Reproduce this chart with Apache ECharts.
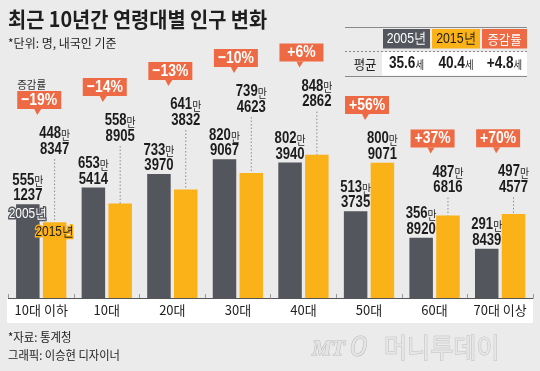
<!DOCTYPE html>
<html><head><meta charset="utf-8">
<script src="https://cdn.jsdelivr.net/npm/echarts@6/dist/echarts.min.js"></script>
<style>html,body{margin:0;padding:0;background:#ebebeb;}#c{width:540px;height:371px;}</style>
</head><body><div id="c"></div>
<script>
// ---- data ----
const categories = ['10대 이하', '10대', '20대', '30대', '40대', '50대', '60대', '70대 이상'];
const pop2005 = [5551237, 6535414, 7333970, 8209067, 8023940, 5133735, 3568920, 2918439];
const pop2015 = [4488347, 5588905, 6413832, 7394623, 8482862, 8009071, 4876816, 4974577];
const changePct = ['−19%', '−14%', '−13%', '−10%', '+6%', '+56%', '+37%', '+70%'];
const tableHeads = ['2005년', '2015년', '증감률'];
const avgAges = ['35.6', '40.4', '+4.8'];

// ---- layout (pixels) ----
const leaderGap = [67, 61.5, 63.6, 60, 47, 2.6, 22, 20.6];
const C_DARK = '#53565d', C_ORANGE = '#fbb118', C_RED = '#ee6a45', C_TXT = '#1c1c1c';
const NUMF = "'Liberation Sans',Arial,sans-serif";
const KR = "'Noto Sans CJK KR',sans-serif";
const SX = 0.82; // condensed look for numbers
const BAR_W = 23.5, GAP_RATIO = 0.14;

function txt(o) {
  const s = Object.assign({}, o);
  if (s.align) s.textAlign = s.align;
  if (s.verticalAlign) s.textVerticalAlign = s.verticalAlign;
  return s;
}
// text element positioned at (x,y) and horizontally condensed
function ctext(x, y, style, sx) {
  return { type: 'text', x: x, y: y, scaleX: sx == null ? SX : sx, style: txt(Object.assign({ x: 0, y: 0, align: 'center', verticalAlign: 'middle' }, style)) };
}
const richNum = {
  n: { fontSize: 16, fontWeight: 'bold', fontFamily: NUMF, fill: C_TXT, color: C_TXT },
  m: { fontSize: 12, fontFamily: KR, fill: C_TXT, color: C_TXT, padding: [3, 0, 0, 0] }
};

function renderItem(params, api) {
  const i = api.value(0);
  const v15 = api.value(1), v05 = api.value(2);
  const cx = api.coord([i, 0])[0];
  const off = (BAR_W + BAR_W * GAP_RATIO) / 2;
  const x05 = cx - off, x15 = cx + off;
  const top05 = api.coord([i, v05])[1];
  const top15 = api.coord([i, v15])[1];
  const ch = [];
  function valueLabel(x, glyphBottom, v) {
    const man = Math.floor(v / 10000), rest = String(v % 10000).padStart(4, '0');
    const c2 = glyphBottom - 5.8, c1 = c2 - 15.5;
    ch.push(ctext(x, c1, { text: '{n|' + man + '}{m|만}', rich: richNum }));
    ch.push(ctext(x, c2, { text: rest, fontSize: 16, fontWeight: 'bold', fontFamily: NUMF, fill: C_TXT }));
    return c1 - 5.8; // glyph top
  }
  valueLabel(x05, top05 - 2.5, v05);
  const lb = top15 - leaderGap[i];
  const gTop = valueLabel(x15, lb, v15);
  if (leaderGap[i] > 8) {
    ch.push({ type: 'line', shape: { x1: x15, y1: lb + 4, x2: x15, y2: top15 },
      style: { stroke: '#8c8c8c', lineWidth: 1, lineDash: [1.5, 2] } });
  }
  // callout
  const bb = gTop - 19, bx = cx - 2;
  ch.push({ type: 'rect', shape: { x: bx - 22, y: bb - 18, width: 44, height: 18 }, style: { fill: C_RED } });
  ch.push({ type: 'polygon', shape: { points: [[bx - 5, bb], [bx + 2, bb], [bx - 2, bb + 6]] }, style: { fill: C_RED } });
  ch.push(ctext(bx, bb - 9, { text: changePct[i], fontSize: 17, fontWeight: 'bold', fontFamily: NUMF, fill: '#fff' }));
  if (i === 0) {
    ch.push(ctext(bx - 22, bb - 24, { text: '증감률', fontSize: 11, fontFamily: KR, fill: '#333', align: 'left' }, 0.95));
    ch.push(ctext(x05, top05 + 10, { text: tableHeads[0], fontSize: 14, fontFamily: NUMF, fill: '#fff', stroke: C_DARK, lineWidth: 3 }, 0.85));
    ch.push(ctext(x15, top15 + 9.5, { text: tableHeads[1], fontSize: 14, fontFamily: NUMF, fill: '#222', stroke: C_ORANGE, lineWidth: 3 }, 0.85));
  }
  return { type: 'group', children: ch };
}

// ---- static graphics ----
const g = [];
g.push({ type: 'rect', z: -1, shape: { x: 7, y: 298.5, width: 526, height: 24.5 }, style: { fill: '#fff' } });
g.push({ type: 'text', x: 8, y: 19, scaleX: 0.94, style: txt({ text: '최근 10년간 연령대별 인구 변화', fontSize: 21, fontWeight: 'bold', fontFamily: KR, fill: '#1e1e1e', verticalAlign: 'middle' }) });
g.push({ type: 'text', x: 8, y: 43, scaleX: 1, style: txt({ text: '*단위: 명, 내국인 기준', fontSize: 12, fontFamily: KR, fill: '#222', verticalAlign: 'middle' }) });
g.push({ type: 'text', x: 8, y: 337, scaleX: 0.95, style: txt({ text: '*자료: 통계청', fontSize: 12, fontFamily: KR, fill: '#222', verticalAlign: 'middle' }) });
g.push({ type: 'text', x: 8, y: 355, scaleX: 0.94, style: txt({ text: '그래픽: 이승현 디자이너', fontSize: 12, fontFamily: KR, fill: '#222', verticalAlign: 'middle' }) });
// table
const cellX = [383, 432, 482], cellW = [47, 48, 45], headFill = [C_DARK, C_ORANGE, C_RED], headTxt = ['#fff', '#1c1c1c', '#fff'];
g.push({ type: 'line', shape: { x1: 345, y1: 27.5, x2: 527, y2: 27.5 }, style: { stroke: '#8a8a8a', lineWidth: 1 } });
g.push({ type: 'line', shape: { x1: 345, y1: 51.5, x2: 527, y2: 51.5 }, style: { stroke: '#8a8a8a', lineWidth: 1, lineDash: [2, 2] } });
g.push({ type: 'rect', shape: { x: 382, y: 52, width: 145, height: 23.5 }, style: { fill: '#fff' } });
g.push({ type: 'line', shape: { x1: 345, y1: 76.5, x2: 527, y2: 76.5 }, style: { stroke: '#8a8a8a', lineWidth: 1 } });
g.push(ctext(365, 64, { text: '평균', fontSize: 13, fontFamily: KR, fill: '#222' }, 0.95));
for (let k = 0; k < 3; k++) {
  g.push({ type: 'rect', shape: { x: cellX[k], y: 29, width: cellW[k], height: 19.5 }, style: { fill: headFill[k] } });
  g.push(ctext(cellX[k] + cellW[k] / 2, 39, { text: tableHeads[k], fontSize: k === 2 ? 13 : 15, fontFamily: k === 2 ? KR : NUMF, fill: headTxt[k] }, k === 2 ? 0.95 : 0.82));
  g.push(ctext(cellX[k] + cellW[k] / 2, 64, { text: '{n|' + avgAges[k] + '}{m|세}',
    rich: { n: { fontSize: 16, fontWeight: 'bold', fontFamily: NUMF, fill: C_TXT, color: C_TXT }, m: { fontSize: 11, fontFamily: KR, fill: C_TXT, color: C_TXT, padding: [2, 0, 0, 0] } } }, 0.85));
}
// logo watermark
g.push({ type: 'text', x: 312, y: 349, style: txt({ text: 'MT', fontSize: 22, fontWeight: 'bold', fontStyle: 'italic', fontFamily: "'Liberation Serif',serif", fill: '#e4e4e4', stroke: '#b9b9b9', lineWidth: 1, verticalAlign: 'middle' }) });
g.push({ type: 'text', x: 350, y: 348, style: txt({ text: '0', fontSize: 30, fontStyle: 'italic', fontFamily: "'Liberation Sans',sans-serif", fill: '#e4e4e4', stroke: '#b9b9b9', lineWidth: 1, verticalAlign: 'middle' }) });
g.push({ type: 'text', x: 384, y: 348, scaleX: 0.93, style: txt({ text: '머니투데이', fontSize: 27, fontFamily: KR, fill: '#e6e6e6', stroke: '#bdbdbd', lineWidth: 1, verticalAlign: 'middle' }) });

const chart = echarts.init(document.getElementById('c'), null, { renderer: 'canvas' });
chart.setOption({
  backgroundColor: '#ebebeb',
  animation: false,
  grid: { left: 8.45, right: 7.1, top: 129, bottom: 73, containLabel: false },
  xAxis: {
    type: 'category', data: categories,
    axisLine: { lineStyle: { color: '#555', width: 1 } },
    axisTick: { show: true, inside: true, length: 4, lineStyle: { color: '#999' } },
    axisLabel: { color: '#222', fontSize: 13, fontFamily: KR, margin: 6, interval: 0 }
  },
  yAxis: { type: 'value', min: 0, max: 10000000, show: false, splitLine: { show: false } },
  graphic: { elements: g },
  series: [
    { type: 'bar', name: '2005년', data: pop2005, barWidth: BAR_W, barGap: (GAP_RATIO * 100) + '%', itemStyle: { color: C_DARK }, silent: true },
    { type: 'bar', name: '2015년', data: pop2015, barWidth: BAR_W, barGap: (GAP_RATIO * 100) + '%', itemStyle: { color: C_ORANGE }, silent: true },
    { type: 'custom', coordinateSystem: 'cartesian2d', clip: false, z: 10, silent: true,
      encode: { x: 0, y: 1 },
      data: categories.map((c, i) => [i, pop2015[i], pop2005[i]]),
      renderItem: renderItem }
  ]
});
</script></body></html>
